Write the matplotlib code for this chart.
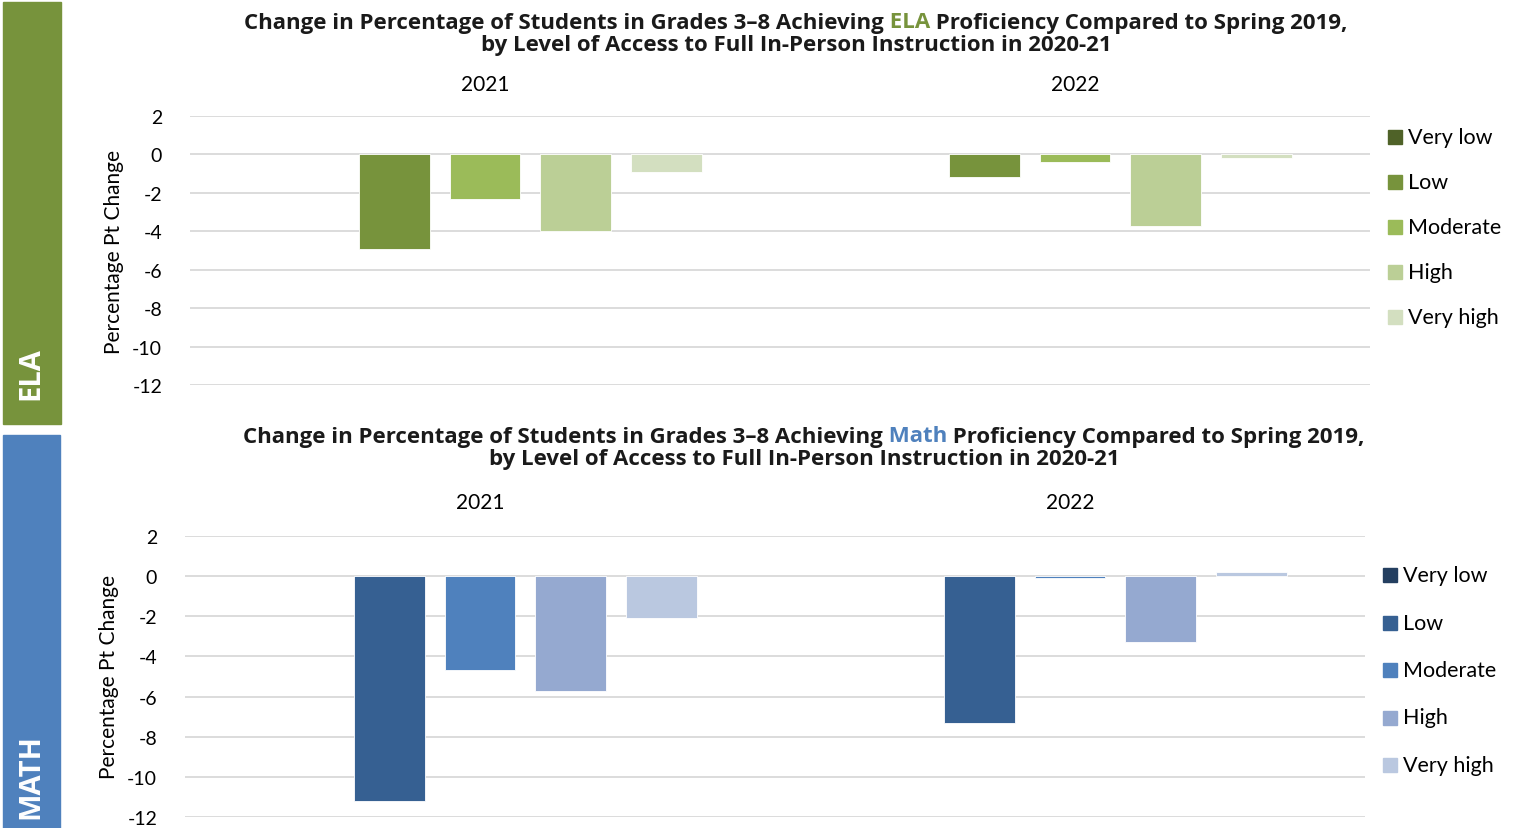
import numpy as np
import matplotlib.pyplot as plt
from matplotlib.patches import Rectangle

plt.rcParams['font.family'] = ['Lato', 'DejaVu Sans']
plt.rcParams['axes.unicode_minus'] = False

years = ['2021', '2022']
levels = ['Very low', 'Low', 'Moderate', 'High', 'Very high']

# ELA change by access level (Very low has no bar)
ela_very_low = [np.nan, np.nan]
ela_low = [-4.9, -1.2]
ela_moderate = [-2.3, -0.4]
ela_high = [-4.0, -3.7]
ela_very_high = [-0.9, -0.2]

# Math change by access level
math_very_low = [np.nan, np.nan]
math_low = [-11.2, -7.3]
math_moderate = [-4.7, -0.1]
math_high = [-5.7, -3.3]
math_very_high = [-2.1, 0.2]

ela_colors = ['#4f6228', '#77933c', '#9bbb59', '#bbcf96', '#d3dfc0']
math_colors = ['#243f60', '#366092', '#4f81bd', '#95a9d0', '#bac8e0']

W, H = 1522, 829
fig = plt.figure(figsize=(W / 100, H / 100), dpi=100)
TFONT = ['Open Sans', 'DejaVu Sans']


def fx(px):
    return px / W


def fy(py):
    return 1 - py / H


def title_line(parts, y, cx, target_w, fontsize=14):
    r = fig.canvas.get_renderer()
    texts = [fig.text(0, y, s, color=c, fontsize=fontsize, fontweight='bold', family=TFONT,
                      va='center', ha='left') for s, c in parts]
    total = sum(t.get_window_extent(r).width for t in texts)
    # scale font so the line is as wide as in the reference, then measure again
    k = target_w / total
    for t in texts:
        t.set_fontsize(fontsize * k)
    widths = [t.get_window_extent(r).width for t in texts]
    x = cx - sum(widths) / 2
    for t, w in zip(texts, widths):
        t.set_x(x / W)
        x += w


def panel(rect, series, colors, l1, l2, title_y, cx, w1, w2, leg_x, leg_y, leg_step):
    ax = fig.add_axes(rect)
    n = len(series)
    x = np.arange(len(years))
    step = 0.154
    for i, vals in enumerate(series):
        ax.bar(x + (i - (n - 1) / 2) * step, vals, width=0.12, color=colors[i],
               edgecolor='white', linewidth=0.6, zorder=3)
    ax.set_xlim(-0.5, 1.5)
    ax.set_ylim(-12, 2)
    ax.set_yticks(np.arange(-12, 3, 2))
    ax.tick_params(axis='y', length=0, labelsize=14, pad=20)
    ax.set_xticks([])
    ax.grid(axis='y', color='#d9d9d9', linewidth=1.3, zorder=0)
    for s in ax.spines.values():
        s.set_visible(False)
    ax.set_ylabel('Percentage Pt Change', fontsize=15, labelpad=6)
    for i, yr in enumerate(years):
        ax.text(i, 1.12, yr, transform=ax.get_xaxis_transform(), ha='center', va='center', fontsize=15)
    # legend
    for i, (lab, c) in enumerate(zip(levels, colors)):
        yy = leg_y + i * leg_step
        fig.patches.append(Rectangle((fx(leg_x), fy(yy + 7)), fx(14), 14 / H, color=c,
                                     transform=fig.transFigure))
        fig.text(fx(leg_x + 20), fy(yy), lab, fontsize=15.5, va='center', ha='left')
    title_line(l1, fy(title_y), cx, w1)
    title_line(l2, fy(title_y + 23), cx, w2)
    return ax


# side bands
fig.patches.append(Rectangle((fx(3), fy(425)), fx(58), (425 - 3) / H, color='#77933c', transform=fig.transFigure))
fig.patches.append(Rectangle((fx(3), 0), fx(57), (829 - 436) / H, color='#4f81bd', transform=fig.transFigure))
fig.text(fx(31), fy(374), 'ELA', color='white', fontsize=21, fontweight='bold', family=TFONT,
         rotation=90, ha='center', va='center')
fig.text(fx(31), fy(777), 'MATH', color='white', fontsize=21, fontweight='bold', family=TFONT,
         rotation=90, ha='center', va='center')

dark = '#1a1a1a'
panel([fx(190), fy(386), fx(1180), (386 - 117) / H],
      [ela_very_low, ela_low, ela_moderate, ela_high, ela_very_high], ela_colors,
      [('Change in Percentage of Students in Grades 3\u20138 Achieving', dark), (' ELA', '#77933c'),
       (' Proficiency Compared to Spring 2019,', dark)],
      [('by Level of Access to Full In-Person Instruction in 2020-21', dark)],
      23, 796, 1112, 634, 1388, 138, 45)

panel([fx(185), fy(818), fx(1180), (818 - 537) / H],
      [math_very_low, math_low, math_moderate, math_high, math_very_high], math_colors,
      [('Change in Percentage of Students in Grades 3\u20138 Achieving', dark), (' Math', '#4f81bd'),
       (' Proficiency Compared to Spring 2019,', dark)],
      [('by Level of Access to Full In-Person Instruction in 2020-21', dark)],
      437, 804, 1130, 634, 1383, 576, 47.5)

fig.savefig('out.png', dpi=100)
